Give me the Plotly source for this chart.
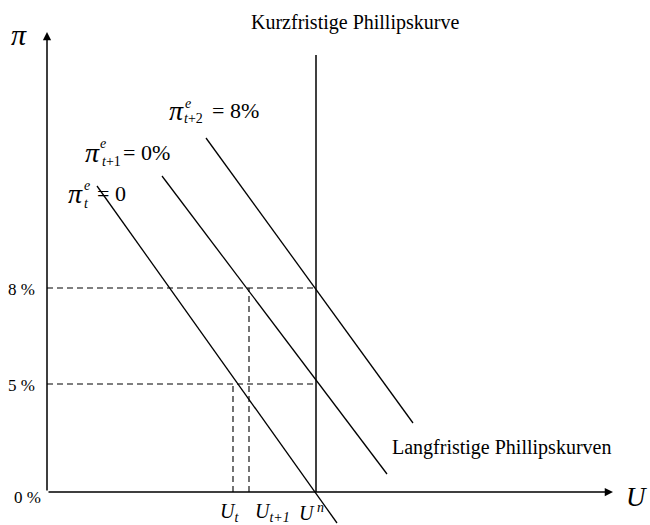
import plotly.graph_objects as go

# ---- diagram data (U = unemployment units, PI = inflation units, schematic) ----
U_N = 269                      # natural rate of unemployment
PI_TICK_VALS = [0, 108, 204]   # 0 %, 5 %, 8 %
PI_TICK_TEXT = ["0 %", "5 %", "8 %"]
U_T = 186                      # U_t
U_T1 = 202                     # U_{t+1}

# short-run Phillips curves (end points)
spc_t_u = [50, 290]
spc_t_pi = [306, -31]
spc_t1_u = [115, 340]
spc_t1_pi = [316, 18]
spc_t2_u = [159, 366]
spc_t2_pi = [354, 69]

# long-run Phillips curve
lrpc_u = [U_N, U_N]
lrpc_pi = [0, 437]

# axis extents
U_AXIS_END = 566
PI_AXIS_END = 460

FONT = "Liberation Serif, Times New Roman, serif"
BLACK = "#000000"

fig = go.Figure()

def seg(x, y, dash="solid", w=1.3):
    fig.add_trace(go.Scatter(x=x, y=y, mode="lines",
                             line=dict(color=BLACK, width=w, dash=dash),
                             hoverinfo="skip", showlegend=False))

# curves
seg(spc_t_u, spc_t_pi)
seg(spc_t1_u, spc_t1_pi)
seg(spc_t2_u, spc_t2_pi)
seg(lrpc_u, lrpc_pi, w=1.5)

# dashed guides
DASH = "6px,4px"
seg([0, U_N], [PI_TICK_VALS[2], PI_TICK_VALS[2]], DASH, 1.1)
seg([0, U_N], [PI_TICK_VALS[1], PI_TICK_VALS[1]], DASH, 1.1)
seg([U_T, U_T], [0, PI_TICK_VALS[1]], DASH, 1.1)
seg([U_T1, U_T1], [0, PI_TICK_VALS[2]], DASH, 1.1)

ann = []

def txt(x, y, text, size, xanchor="center", yanchor="middle"):
    ann.append(dict(x=x, y=y, xref="x", yref="y", text=text, showarrow=False,
                    font=dict(family=FONT, size=size, color=BLACK),
                    xanchor=xanchor, yanchor=yanchor))

# axes as arrows
ann.append(dict(x=U_AXIS_END, y=0, ax=0, ay=0, xref="x", yref="y", axref="x", ayref="y",
                showarrow=True, arrowhead=2, arrowsize=1.1, arrowwidth=1.5,
                arrowcolor=BLACK, text=""))
ann.append(dict(x=0, y=PI_AXIS_END, ax=0, ay=0, xref="x", yref="y", axref="x", ayref="y",
                showarrow=True, arrowhead=2, arrowsize=1.1, arrowwidth=1.5,
                arrowcolor=BLACK, text=""))

# axis titles
txt(-28, 458, "<i>π</i>", 30)
txt(589, -5, "<i>U</i>", 27)

# y tick labels
txt(-10, PI_TICK_VALS[2] - 1, PI_TICK_TEXT[2], 17, xanchor="right")
txt(-10, PI_TICK_VALS[1] - 1, PI_TICK_TEXT[1], 17, xanchor="right")
txt(-4, PI_TICK_VALS[0] - 5, PI_TICK_TEXT[0], 17, xanchor="right")

# x labels
txt(171, -20, "<i>U<sub>t</sub></i>", 20, xanchor="left")
txt(206, -20, "<i>U<sub>t+1</sub></i>", 20, xanchor="left")
txt(250, -20, "<i>U<sup> n</sup></i>", 20, xanchor="left")

# curve labels
txt(308, 470, "Kurzfristige Phillipskurve", 20)
txt(454, 45, "Langfristige Phillipskurven", 20)

# expectation labels: (pi centre), (e centre), (sub left), (rhs left)
def exp_label(pc, ec, sl, rl, sub, rhs):
    txt(pc[0], pc[1], "<i>π</i>", 28)
    txt(ec[0], ec[1], "<i>e</i>", 14)
    txt(sl[0], sl[1], sub, 14, xanchor="left")
    txt(rl[0], rl[1], rhs, 22, xanchor="left")

exp_label((129, 382), (141, 389), (135, 374), (163, 382), "<i>t</i>+2", "= 8%")
exp_label((45, 340), (56, 349), (53, 331), (74, 340), "<i>t</i>+1", "= 0%")
exp_label((28, 299), (40, 307), (35, 289), (48, 299), "<i>t</i>", "= 0")

fig.update_layout(
    width=650, height=525,
    margin=dict(l=0, r=0, t=0, b=0),
    paper_bgcolor="white", plot_bgcolor="white",
    xaxis=dict(range=[-47, 603], visible=False, fixedrange=True),
    yaxis=dict(range=[-33, 492], visible=False, fixedrange=True),
    annotations=ann,
    showlegend=False,
)

fig.write_html("out.html", config={"displayModeBar": False},
               post_script="document.body.style.margin='0';document.body.style.padding='0';")
